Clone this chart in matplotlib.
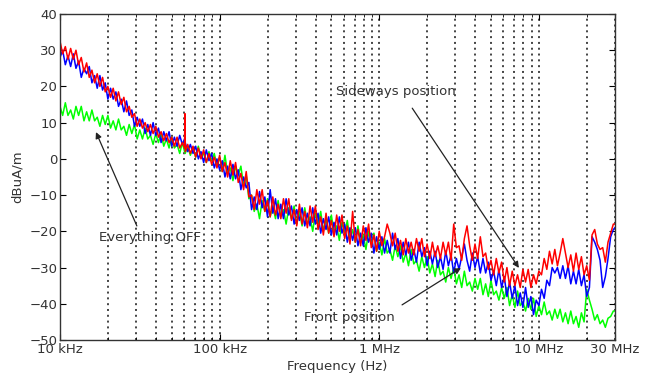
import matplotlib
matplotlib.use('Agg')
import matplotlib.pyplot as plt
from matplotlib.ticker import LogLocator, NullFormatter

# Measurement frequencies in kHz
freq_khz = [
    # 10 kHz - 100 kHz
    10.00, 10.39, 10.80, 11.22, 11.66, 12.12, 12.59, 13.08, 13.59, 14.13,
    14.68, 15.25, 15.85, 16.47, 17.11, 17.78, 18.48, 19.20, 19.95, 20.74,
    21.54, 22.39, 23.26, 24.18, 25.12, 26.10, 27.12, 28.18, 29.29, 30.43,
    31.62, 32.86, 34.15, 35.48, 36.87, 38.31, 39.81, 41.37, 42.99, 44.67,
    46.42, 48.23, 50.12, 52.08, 54.12, 56.23, 58.43, 60.3, 60.6, 60.9, 63.10, 65.57,
    68.13, 70.79, 73.56, 76.45, 79.43, 82.54, 85.77, 89.13, 92.61, 96.24,
    # 100 kHz - 1 MHz
    100.0, 103.9, 108.0, 112.2, 116.6, 121.2, 125.9, 130.8, 135.9, 141.3,
    146.8, 152.5, 158.5, 164.7, 171.1, 177.8, 184.8, 192.0, 199.5, 207.4,
    215.4, 223.9, 232.6, 241.8, 251.2, 261.0, 271.2, 281.8, 292.9, 304.3,
    316.2, 328.6, 341.5, 354.8, 368.7, 383.1, 398.1, 413.7, 429.9, 446.7,
    464.2, 482.3, 501.2, 520.8, 541.2, 562.3, 584.3, 607.2, 631.0, 655.7,
    681.3, 707.9, 735.6, 764.5, 794.3, 825.4, 857.7, 891.3, 926.1, 962.4,
    # 1 MHz - 10 MHz
    1000, 1039, 1080, 1122, 1166, 1212, 1259, 1308, 1359, 1413,
    1468, 1525, 1585, 1647, 1711, 1778, 1848, 1920, 1995, 2074,
    2154, 2239, 2326, 2418, 2512, 2610, 2712, 2818, 2929, 3043,
    3162, 3286, 3415, 3548, 3687, 3831, 3981, 4137, 4299, 4467,
    4642, 4823, 5012, 5208, 5412, 5623, 5843, 6072, 6310, 6557,
    6813, 7079, 7356, 7645, 7943, 8254, 8577, 8913, 9261, 9624,
    # 10 MHz - 30 MHz
    10000, 10390, 10800, 11220, 11660, 12120, 12590, 13080, 13590, 14130,
    14680, 15250, 15850, 16470, 17110, 17780, 18480, 19200, 19950, 20740,
    21540, 22390, 23260, 24180, 25120, 26100, 27120, 28180, 29290, 30000,
]

# Sideways position (red), dBuA/m
sideways = [
    32.5, 29, 31, 27.5, 30.5, 27.5, 30, 26, 28, 24,
    26.5, 22.5, 24.5, 21, 23.5, 20, 22.5, 18.5, 20, 17,
    19.5, 16, 18.5, 15, 17, 13, 14.5, 11.5, 12.5, 9,
    11, 8.5, 10, 7.5, 9.5, 7, 9, 6, 7.5, 5,
    7, 4.5, 6, 3.5, 6, 3, 4.5, 3, 12.5, 2, 4, 1.5,
    3.5, 0.5, 3, 0, 2.5, -1, 1.5, -1.5, 0.5, -2.5,
    1, -3.5, -1, -5, -0.5, -4.5, -1, -6.5, -4, -8.5,
    -3.5, -10.5, -10, -14, -8.5, -12.5, -8.5, -14.5, -11.5, -16,
    -10.5, -15.5, -12.5, -16.5, -11, -15, -11, -17, -14, -18.5,
    -12.5, -18, -14.5, -19, -13, -17.5, -13, -19.5, -16, -21,
    -15, -20.5, -17, -21.5, -15.5, -20, -15.5, -22, -18.5, -23.5,
    -14.5, -23, -19.5, -24, -18.5, -22.5, -18, -24.5, -21, -25.5,
    -20, -24, -21.5, -18, -20.5, -24, -20.5, -25.5, -22.5, -26.5,
    -22, -26, -23, -26.5, -22, -25.5, -22, -27, -23.5, -27.5,
    -23, -27, -24, -27.5, -23, -26.5, -23, -28, -18, -24.5,
    -24, -28, -22, -18.5, -24, -28, -23.5, -27.5, -21.5, -27,
    -26, -30.5, -28, -32, -27.5, -31.5, -28.5, -34, -30, -35,
    -31, -35, -32, -35.5, -30.5, -34, -30.5, -35.5, -32, -34.5,
    -31, -32, -27.5, -30.5, -25.5, -29, -25, -29.5, -26, -22,
    -26, -30, -26.5, -31, -26, -30.5, -27, -32, -29.5, -33.5,
    -21, -19.5, -23.5, -25, -24.5, -28.5, -23, -20.5, -18, -18,
]

# Front position (blue)
front = [
    28, 30, 26, 28.5, 25.5, 29, 25, 27, 22.5, 25,
    23.5, 25.5, 21, 23, 19.5, 23, 19, 21, 16.5, 19.5,
    16.5, 18.5, 14.5, 16.5, 13, 16, 12, 13.5, 9, 11.5,
    9, 11, 7, 9.5, 6.5, 10, 6.5, 8.5, 4.5, 7.5,
    5, 7.5, 3.5, 6, 3.5, 6.5, 4, 5.5, 3, 4.5, 2, 4,
    1.5, 3.5, 0, 2, -1, 2.5, -0.5, 1.5, -2.5, 0,
    -3, -0.5, -5, -2, -5.5, -1.5, -5.5, -3, -8.5, -5,
    -8, -6.5, -14, -10.5, -14, -9, -13.5, -10.5, -16, -8.5,
    -15, -11, -16.5, -12.5, -16.5, -11, -15.5, -13, -18, -14,
    -17, -13.5, -18.5, -15, -18.5, -13.5, -18, -15, -20.5, -16.5,
    -19.5, -16, -21, -17.5, -21, -16, -20.5, -18, -23, -19,
    -22.5, -19, -24, -20.5, -24, -19, -23, -20.5, -26, -21.5,
    -25, -21.5, -26, -22.5, -26, -20.5, -25, -22, -27.5, -23,
    -26.5, -23, -28, -25, -28.5, -23, -27, -24.5, -29.5, -25.5,
    -29, -25.5, -30, -27, -30.5, -25.5, -29.5, -26.5, -31.5, -27.5,
    -30.5, -27, -23.5, -28, -31, -26, -30, -27, -31.5, -27.5,
    -31.5, -28.5, -33.5, -31, -35, -30.5, -35.5, -32.5, -38, -34,
    -38.5, -35, -40.5, -37, -41, -35.5, -41, -38, -43, -39,
    -40.5, -36, -38.5, -33.5, -35, -30, -31.5, -30, -33, -29.5,
    -33, -29.5, -34.5, -31, -34.5, -30.5, -35, -32, -38, -35.5,
    -21.5, -23, -25, -28, -35.5, -32.5, -27.5, -21.5, -19.5, -19,
]

# Everything OFF (green)
everything_off = [
    14.5, 12, 15.5, 12, 13.5, 11, 14.5, 12, 14.5, 10.5,
    13, 10.5, 13.5, 10.5, 11.5, 9, 12, 9.5, 12, 8.5,
    10.5, 8, 11, 8, 9, 6.5, 9.5, 7, 9.5, 5.5,
    8, 5.5, 8.5, 5.5, 6.5, 4, 7, 4.5, 7, 3.5,
    5.5, 3, 6, 3, 4, 1.5, 4.5, 2, 5, 1.5, 3.5, 1,
    3, 0.5, 3.5, 0.5, 1.5, -1, 2, -0.5, 1.5, -2,
    0.5, -3.5, 1, -4, -2.5, -6, -2, -4.5, -2, -7.5,
    -4.5, -11, -10, -14.5, -12.5, -16.5, -11.5, -14.5, -11, -16,
    -13, -16.5, -11.5, -16, -14, -18, -13.5, -16.5, -13, -18,
    -14.5, -18.5, -13.5, -18, -16, -20, -15, -18, -14.5, -20,
    -16.5, -20.5, -15.5, -20.5, -18.5, -22.5, -17.5, -20.5, -17, -22.5,
    -19.5, -23, -18.5, -23, -21, -25, -20, -23.5, -20.5, -25.5,
    -23, -26.5, -22, -26, -25, -28, -24, -27, -24, -28.5,
    -26, -29.5, -25, -29, -28, -31, -27, -30, -27, -31.5,
    -29, -32.5, -28, -32, -31, -34, -30, -33, -30, -34.5,
    -32, -35.5, -31, -35, -34, -36.5, -33, -36, -33, -37.5,
    -34.5, -38, -33.5, -37.5, -36.5, -39, -35.5, -38.5, -35.5, -40.5,
    -37.5, -41, -36.5, -40.5, -39.5, -42, -38.5, -41.5, -38.5, -43.5,
    -40.5, -43, -39.5, -43, -42, -44.5, -41.5, -44, -41.5, -45,
    -42.5, -45.5, -42, -45.5, -43.5, -46.5, -42.5, -45, -36, -39,
    -41.5, -44.5, -43, -45.5, -44.5, -46.5, -44, -43.5, -42, -42,
]

xtick_hz = [1e4, 1e5, 1e6, 1e7, 3e7]
xtick_labels = ['10 kHz', '100 kHz', '1 MHz', '10 MHz', '30 MHz']
ytick_vals = [-50, -40, -30, -20, -10, 0, 10, 20, 30, 40]

plt.rcParams['font.family'] = ['DejaVu Sans']
txt_color = '#333333'

fig = plt.figure(figsize=(6.53, 3.78), dpi=100)
ax = fig.add_axes([60 / 653, 1 - 340 / 378, 555 / 653, 326 / 378])
ax.set_xscale('log')

f_hz = [f * 1e3 for f in freq_khz]
ax.plot(f_hz, everything_off, color='#00ff00', lw=1.1)
ax.plot(f_hz, front, color='#0000ff', lw=1.1)
ax.plot(f_hz, sideways, color='#ff0000', lw=1.1)

ax.set_xlim(1e4, 3e7)
ax.set_ylim(-50, 40)
ax.set_xticks(xtick_hz)
ax.set_xticklabels(xtick_labels)
ax.xaxis.set_minor_locator(LogLocator(base=10, subs=range(2, 10), numticks=20))
ax.xaxis.set_minor_formatter(NullFormatter())
ax.set_yticks(ytick_vals)
ax.tick_params(which='major', direction='in', top=True, right=True, length=4,
               width=0.8, labelsize=9.5, labelcolor=txt_color, pad=2)
ax.tick_params(which='minor', direction='in', top=True, bottom=True, length=2, width=0.6)
ax.set_axisbelow(True)
ax.grid(True, which='both', axis='x', linestyle=(0, (1.3, 2.5)), color='#111111', lw=1.1)
for s in ax.spines.values():
    s.set_color('#333333')
    s.set_linewidth(1.0)

ax.set_xlabel('Frequency (Hz)', fontsize=9.5, color=txt_color, labelpad=3)
ax.set_ylabel('dBuA/m', fontsize=9.5, color=txt_color, labelpad=4)

arrow = dict(arrowstyle='-|>', color='#222222', lw=0.9, mutation_scale=9,
             shrinkA=0, shrinkB=0)
ax.text(1.277e6, 18.7, 'Sideways position', fontsize=9.5, color=txt_color,
        ha='center', va='center')
ax.annotate('', xy=(7.5e6, -30.1), xytext=(1.61e6, 14.0), arrowprops=arrow)

ax.text(3.65e4, -21.6, 'Everything OFF', fontsize=9.5, color=txt_color,
        ha='center', va='center')
ax.annotate('', xy=(1.68e4, 7.4), xytext=(3.03e4, -18.5), arrowprops=arrow)

ax.text(6.49e5, -43.7, 'Front position', fontsize=9.5, color=txt_color,
        ha='center', va='center')
ax.annotate('', xy=(3.25e6, -30.1), xytext=(1.39e6, -40.3), arrowprops=arrow)

fig.savefig('out.png', dpi=100)
